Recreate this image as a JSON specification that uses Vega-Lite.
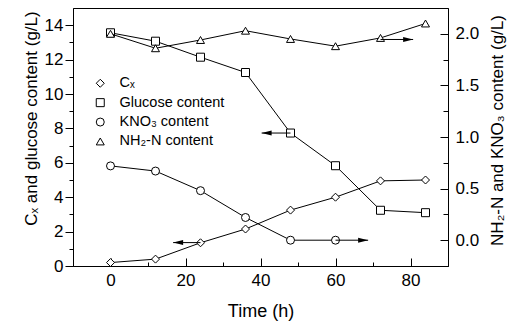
{
  "$schema": "https://vega.github.io/schema/vega-lite/v6.json",
  "width": 375,
  "height": 258,
  "autosize": {"type": "none"},
  "padding": {"left": 73, "top": 8, "right": 74, "bottom": 60},
  "config": {
    "font": "Liberation Sans",
    "view": {"stroke": "black", "strokeWidth": 1},
    "axis": {
      "grid": false,
      "domainColor": "black",
      "tickColor": "black",
      "labelColor": "black",
      "titleColor": "black",
      "labelFontSize": 17,
      "titleFontSize": 17,
      "titleFontWeight": "normal",
      "labelFont": "Liberation Sans",
      "titleFont": "Liberation Sans",
      "tickWidth": 1,
      "domainWidth": 1
    },
    "legend": {"labelFont": "Liberation Sans", "labelColor": "black"}
  },
  "datasets": {
    "main": [
      {"t": 0, "series": "Cₓ", "v": 0.2, "ax": "L"},
      {"t": 12, "series": "Cₓ", "v": 0.4, "ax": "L"},
      {"t": 24, "series": "Cₓ", "v": 1.35, "ax": "L"},
      {"t": 36, "series": "Cₓ", "v": 2.15, "ax": "L"},
      {"t": 48, "series": "Cₓ", "v": 3.25, "ax": "L"},
      {"t": 60, "series": "Cₓ", "v": 4.0, "ax": "L"},
      {"t": 72, "series": "Cₓ", "v": 4.95, "ax": "L"},
      {"t": 84, "series": "Cₓ", "v": 5.0, "ax": "L"},
      {"t": 0, "series": "Glucose content", "v": 13.56, "ax": "L"},
      {"t": 12, "series": "Glucose content", "v": 13.07, "ax": "L"},
      {"t": 24, "series": "Glucose content", "v": 12.14, "ax": "L"},
      {"t": 36, "series": "Glucose content", "v": 11.25, "ax": "L"},
      {"t": 48, "series": "Glucose content", "v": 7.73, "ax": "L"},
      {"t": 60, "series": "Glucose content", "v": 5.83, "ax": "L"},
      {"t": 72, "series": "Glucose content", "v": 3.24, "ax": "L"},
      {"t": 84, "series": "Glucose content", "v": 3.1, "ax": "L"},
      {"t": 0, "series": "KNO₃ content", "v": 0.72, "ax": "R"},
      {"t": 12, "series": "KNO₃ content", "v": 0.67, "ax": "R"},
      {"t": 24, "series": "KNO₃ content", "v": 0.48, "ax": "R"},
      {"t": 36, "series": "KNO₃ content", "v": 0.22, "ax": "R"},
      {"t": 48, "series": "KNO₃ content", "v": 0.0, "ax": "R"},
      {"t": 60, "series": "KNO₃ content", "v": 0.0, "ax": "R"},
      {"t": 0, "series": "NH₂-N content", "v": 2.0, "ax": "R"},
      {"t": 12, "series": "NH₂-N content", "v": 1.86, "ax": "R"},
      {"t": 24, "series": "NH₂-N content", "v": 1.94, "ax": "R"},
      {"t": 36, "series": "NH₂-N content", "v": 2.03, "ax": "R"},
      {"t": 48, "series": "NH₂-N content", "v": 1.95, "ax": "R"},
      {"t": 60, "series": "NH₂-N content", "v": 1.88, "ax": "R"},
      {"t": 72, "series": "NH₂-N content", "v": 1.96, "ax": "R"},
      {"t": 84, "series": "NH₂-N content", "v": 2.1, "ax": "R"}
    ],
    "arrows": [
      {"x1": 24, "x2": 16.7, "y": 1.36, "ax": "L"},
      {"x1": 48, "x2": 40.3, "y": 7.73, "ax": "L"},
      {"x1": 60, "x2": 68.7, "y": 0.0, "ax": "R"},
      {"x1": 72, "x2": 80.7, "y": 1.945, "ax": "R"}
    ]
  },
  "layer": [
    {
      "layer": [
        {
          "data": {"name": "main"},
          "transform": [{"filter": "datum.ax === 'L'"}],
          "mark": {"type": "line", "color": "black", "strokeWidth": 1},
          "encoding": {
            "x": {"field": "t", "type": "quantitative", "scale": {"domain": [-10, 90], "nice": false},
              "axis": {"orient": "bottom", "values": [0, 20, 40, 60, 80], "tickSize": -8, "labelPadding": 14, "title": "Time (h)", "titlePadding": 14, "titleFontSize": 18}},
            "y": {"field": "v", "type": "quantitative", "scale": {"domain": [0, 15], "nice": false, "zero": false},
              "axis": {"orient": "left", "values": [0, 2, 4, 6, 8, 10, 12, 14], "tickSize": 8, "labelPadding": 2, "title": "Cₓ and glucose content (g/L)", "titlePadding": 4, "titleY": 110}},
            "detail": {"field": "series"}
          }
        },
        {
          "data": {"name": "main"},
          "transform": [{"filter": "datum.ax === 'L'"}],
          "mark": {"type": "point", "filled": true, "fill": "white", "stroke": "black", "strokeWidth": 1, "size": 64, "opacity": 1},
          "encoding": {
            "x": {"field": "t", "type": "quantitative", "scale": {"domain": [-10, 90], "nice": false},
              "axis": {"orient": "bottom", "values": [10, 30, 50, 70], "tickSize": -4, "labels": false, "domain": false, "title": null}},
            "y": {"field": "v", "type": "quantitative", "scale": {"domain": [0, 15], "nice": false, "zero": false},
              "axis": {"orient": "left", "values": [1, 3, 5, 7, 9, 11, 13], "tickSize": 4, "labels": false, "domain": false, "title": null}},
            "shape": {
              "field": "series", "type": "nominal",
              "scale": {"domain": ["Cₓ", "Glucose content", "KNO₃ content", "NH₂-N content"], "range": ["diamond", "square", "circle", "triangle-up"]},
              "legend": {
                "orient": "none", "legendX": 8, "legendY": 68, "title": null, "padding": 0,
                "symbolSize": 64, "symbolOffset": 12, "labelOffset": 12, "labelFontSize": 14.5, "rowPadding": 4.4,
                "symbolStrokeWidth": 1
              }
            }
          }
        },
        {
          "data": {"name": "arrows"},
          "transform": [{"filter": "datum.ax === 'L'"}],
          "mark": {"type": "rule", "color": "black", "strokeWidth": 1},
          "encoding": {
            "x": {"field": "x1", "type": "quantitative", "scale": {"domain": [-10, 90], "nice": false}, "axis": null},
            "x2": {"field": "x2"},
            "y": {"field": "y", "type": "quantitative", "scale": {"domain": [0, 15], "nice": false, "zero": false}, "axis": null}
          }
        },
        {
          "data": {"name": "arrows"},
          "transform": [{"filter": "datum.ax === 'L'"}],
          "mark": {"type": "point", "shape": "M0,0L2,-0.5L2,0.5Z", "filled": true, "color": "black", "size": 100, "opacity": 1},
          "encoding": {
            "x": {"field": "x2", "type": "quantitative", "scale": {"domain": [-10, 90], "nice": false}, "axis": null},
            "y": {"field": "y", "type": "quantitative", "scale": {"domain": [0, 15], "nice": false, "zero": false}, "axis": null}
          }
        }
      ],
      "resolve": {"axis": {"x": "independent", "y": "independent"}}
    },
    {
      "layer": [
        {
          "data": {"name": "main"},
          "transform": [{"filter": "datum.ax === 'R'"}],
          "mark": {"type": "line", "color": "black", "strokeWidth": 1},
          "encoding": {
            "x": {"field": "t", "type": "quantitative", "scale": {"domain": [-10, 90], "nice": false}, "axis": null},
            "y": {"field": "v", "type": "quantitative", "scale": {"domain": [-0.25, 2.25], "nice": false, "zero": false},
              "axis": {"orient": "right", "values": [0, 0.5, 1, 1.5, 2], "format": ".1f", "tickSize": -8, "labelPadding": 15, "title": "NH₂-N and KNO₃ content (g/L)", "titleAngle": 270, "titleBaseline": "top", "titlePadding": 11, "titleY": 122}},
            "detail": {"field": "series"}
          }
        },
        {
          "data": {"name": "main"},
          "transform": [{"filter": "datum.ax === 'R'"}],
          "mark": {"type": "point", "filled": true, "fill": "white", "stroke": "black", "strokeWidth": 1, "size": 64, "opacity": 1},
          "encoding": {
            "x": {"field": "t", "type": "quantitative", "scale": {"domain": [-10, 90], "nice": false}, "axis": null},
            "y": {"field": "v", "type": "quantitative", "scale": {"domain": [-0.25, 2.25], "nice": false, "zero": false},
              "axis": {"orient": "right", "values": [0.25, 0.75, 1.25, 1.75], "tickSize": -5, "labels": false, "domain": false, "title": null}},
            "shape": {
              "field": "series", "type": "nominal",
              "scale": {"domain": ["Cₓ", "Glucose content", "KNO₃ content", "NH₂-N content"], "range": ["diamond", "square", "circle", "triangle-up"]},
              "legend": null
            }
          }
        },
        {
          "data": {"name": "arrows"},
          "transform": [{"filter": "datum.ax === 'R'"}],
          "mark": {"type": "rule", "color": "black", "strokeWidth": 1},
          "encoding": {
            "x": {"field": "x1", "type": "quantitative", "scale": {"domain": [-10, 90], "nice": false}, "axis": null},
            "x2": {"field": "x2"},
            "y": {"field": "y", "type": "quantitative", "scale": {"domain": [-0.25, 2.25], "nice": false, "zero": false}, "axis": null}
          }
        },
        {
          "data": {"name": "arrows"},
          "transform": [{"filter": "datum.ax === 'R'"}],
          "mark": {"type": "point", "shape": "M0,0L-2,-0.5L-2,0.5Z", "filled": true, "color": "black", "size": 100, "opacity": 1},
          "encoding": {
            "x": {"field": "x2", "type": "quantitative", "scale": {"domain": [-10, 90], "nice": false}, "axis": null},
            "y": {"field": "y", "type": "quantitative", "scale": {"domain": [-0.25, 2.25], "nice": false, "zero": false}, "axis": null}
          }
        }
      ],
      "resolve": {"axis": {"y": "independent"}}
    }
  ],
  "resolve": {"scale": {"y": "independent", "shape": "independent"}, "axis": {"x": "independent"}}
}
